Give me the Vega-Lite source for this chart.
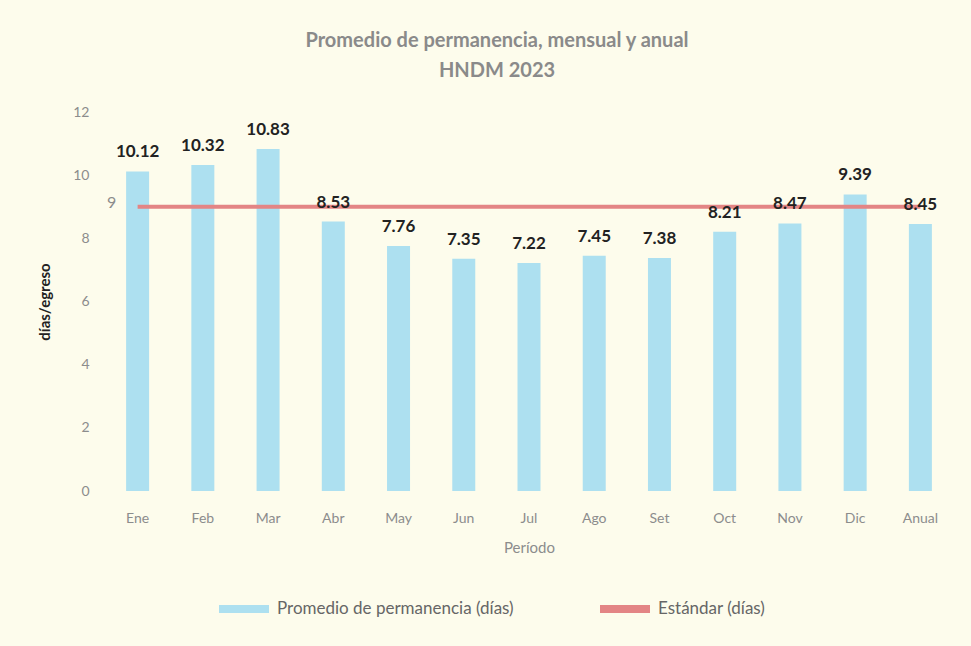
{
  "$schema": "https://vega.github.io/schema/vega-lite/v6.json",
  "width": 848,
  "height": 379,
  "autosize": {"type": "none"},
  "padding": {"left": 105, "top": 112, "right": 18, "bottom": 155},
  "background": "#fdfcec",
  "config": {
    "font": "Lato",
    "view": {"stroke": null},
    "axis": {"grid": false, "domain": false, "ticks": false, "labelColor": "#8c8c8c", "labelFontSize": 14, "labelFont": "Lato"}
  },
  "title": {
    "text": ["Promedio de permanencia, mensual y anual", "HNDM 2023"],
    "fontSize": 20,
    "font": "Lato",
    "fontWeight": "bold",
    "color": "#8a8a8a",
    "anchor": "middle",
    "dx": -32,
    "offset": 24,
    "lineHeight": 30
  },
  "data": {
    "values": [
      {"mes": "Ene", "prom": 10.12, "est": 9},
      {"mes": "Feb", "prom": 10.32, "est": 9},
      {"mes": "Mar", "prom": 10.83, "est": 9},
      {"mes": "Abr", "prom": 8.53, "est": 9},
      {"mes": "May", "prom": 7.76, "est": 9},
      {"mes": "Jun", "prom": 7.35, "est": 9},
      {"mes": "Jul", "prom": 7.22, "est": 9},
      {"mes": "Ago", "prom": 7.45, "est": 9},
      {"mes": "Set", "prom": 7.38, "est": 9},
      {"mes": "Oct", "prom": 8.21, "est": 9},
      {"mes": "Nov", "prom": 8.47, "est": 9},
      {"mes": "Dic", "prom": 9.39, "est": 9},
      {"mes": "Anual", "prom": 8.45, "est": 9}
    ]
  },
  "encoding": {
    "x": {
      "field": "mes",
      "type": "nominal",
      "sort": null,
      "title": "Período",
      "scale": {"paddingInner": 0.66, "paddingOuter": 0.33},
      "axis": {"labelAngle": 0, "labelPadding": 20, "titleColor": "#8c8c8c", "titleFontSize": 15, "titleFontWeight": "normal", "titlePadding": 15}
    }
  },
  "layer": [
    {
      "mark": {"type": "bar", "width": 23},
      "encoding": {
        "y": {
          "field": "prom",
          "type": "quantitative",
          "scale": {"domain": [0, 12]},
          "title": "días/egreso",
          "axis": {"values": [0, 2, 4, 6, 8, 10, 12], "labelPadding": 16, "titleColor": "#222222", "titleFontSize": 15, "titleFontWeight": "bold", "titlePadding": 20}
        },
        "color": {
          "datum": "Promedio de permanencia (días)",
          "type": "nominal",
          "scale": {"domain": ["Promedio de permanencia (días)", "Estándar (días)"], "range": ["#ade0f0", "#e38585"]},
          "legend": {
            "title": null,
            "orient": "none",
            "direction": "horizontal",
            "legendX": 110,
            "legendY": 468,
            "symbolType": "stroke",
            "symbolSize": 2500,
            "symbolStrokeWidth": 8,
            "labelFontSize": 17,
            "labelColor": "#666666",
            "labelFont": "Lato",
            "labelLimit": 400,
            "labelOffset": 4,
            "columnPadding": 70,
            "symbolOpacity": 1
          }
        }
      }
    },
    {
      "mark": {"type": "line", "strokeWidth": 4},
      "encoding": {
        "y": {"field": "est", "type": "quantitative"},
        "color": {"datum": "Estándar (días)", "type": "nominal"}
      }
    },
    {
      "mark": {"type": "text", "baseline": "bottom", "dy": -10, "fontSize": 17, "fontWeight": "bold", "color": "#222222"},
      "encoding": {
        "y": {"field": "prom", "type": "quantitative"},
        "text": {"field": "prom", "type": "quantitative", "format": ".2f"}
      }
    },
    {
      "transform": [{"filter": "datum.mes === 'Ene'"}],
      "mark": {"type": "text", "dx": -26, "dy": -4, "fontSize": 16, "color": "#8c8c8c"},
      "encoding": {
        "y": {"field": "est", "type": "quantitative"},
        "text": {"field": "est", "type": "quantitative"}
      }
    }
  ]
}
